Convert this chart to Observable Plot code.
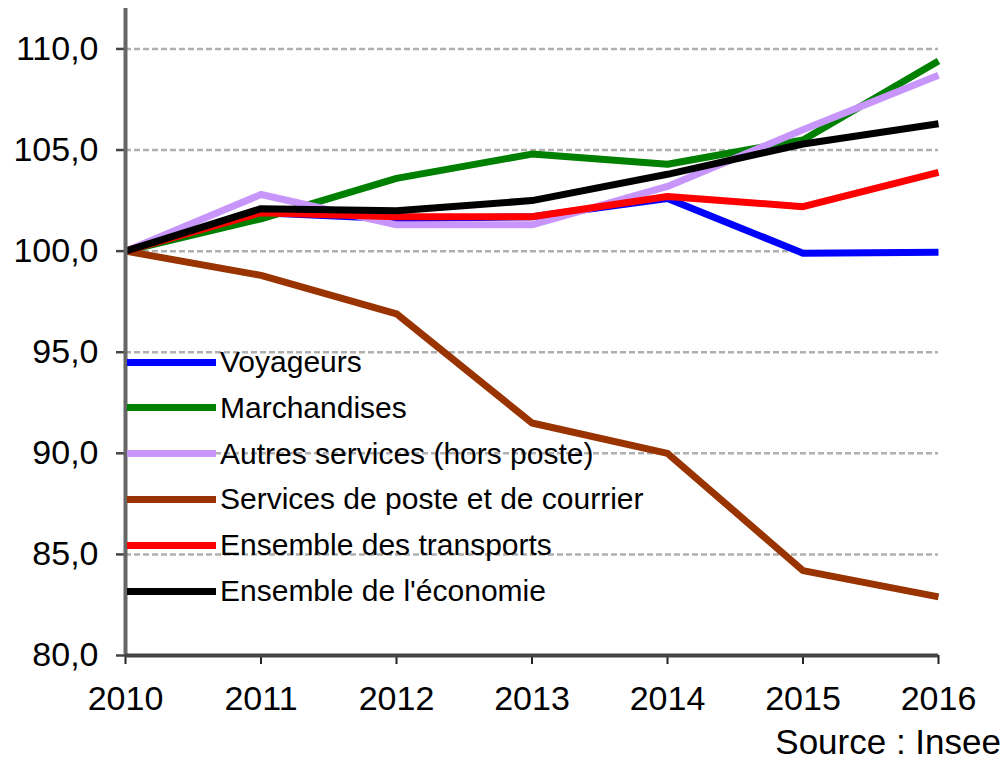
<!DOCTYPE html>
<html><head><meta charset="utf-8">
<script src="https://cdn.jsdelivr.net/npm/d3@7"></script>
<script src="https://cdn.jsdelivr.net/npm/@observablehq/plot@0.6"></script>
<style>
body{margin:0;background:#fff;font-family:"Liberation Sans",Arial,sans-serif;}
#wrap{position:relative;width:1005px;height:762px;overflow:hidden;}
.leg{position:absolute;left:127px;display:flex;align-items:center;font-size:30px;color:#000;white-space:nowrap;}
.sw{width:89px;height:7px;margin-right:4px;}
#src{position:absolute;right:4px;top:722px;font-size:35px;line-height:40px;color:#000;}
</style></head>
<body><div id="wrap"></div>
<script>
const years = [2010, 2011, 2012, 2013, 2014, 2015, 2016];
const seriesNames = ["Voyageurs", "Marchandises", "Autres services (hors poste)", "Services de poste et de courrier", "Ensemble des transports", "Ensemble de l'économie"];
const seriesColors = ["#0000ff", "#008000", "#c896fa", "#993300", "#ff0000", "#000000"];
const voyageurs = [100, 101.9, 101.6, 101.7, 102.6, 99.9, 99.95];
const marchandises = [100, 101.6, 103.6, 104.8, 104.3, 105.5, 109.4];
const autres = [100, 102.8, 101.3, 101.3, 103.2, 106.0, 108.7];
const poste = [100, 98.8, 96.9, 91.5, 90.0, 84.2, 82.9];
const transports = [100, 101.9, 101.7, 101.7, 102.7, 102.2, 103.9];
const economie = [100, 102.1, 102.0, 102.5, 103.8, 105.3, 106.3];
const yTicks = [80, 85, 90, 95, 100, 105, 110];
const gridTicks = [85, 90, 95, 100, 105, 110];
const yDomain = [80, 112];
const sourceText = "Source : Insee";

const allSeries = [voyageurs, marchandises, autres, poste, transports, economie];
const rows = [];
allSeries.forEach((vals, i) => vals.forEach((v, j) => rows.push({serie: seriesNames[i], year: years[j], value: v})));

const fmt = v => v.toFixed(1).replace(".", ",");

const chart = Plot.plot({
  width: 1005, height: 720,
  marginLeft: 125, marginRight: 67, marginTop: 8, marginBottom: 65,
  style: {fontFamily: '"Liberation Sans", Arial, sans-serif', fontSize: "34px", color: "#000", background: "#fff"},
  x: {domain: [2010, 2016], type: "linear", label: null},
  y: {domain: yDomain, label: null},
  color: {domain: seriesNames, range: seriesColors},
  marks: [
    Plot.ruleY(gridTicks, {stroke: "#b0b0b0", strokeWidth: 2.5, strokeDasharray: "6,3"}),
    Plot.axisY({ticks: yTicks, tickFormat: fmt, tickSize: 9, tickPadding: 18, stroke: "#444", strokeWidth: 2.5, fill: "#000", fontSize: 34, label: null}),
    Plot.axisX({ticks: years, tickFormat: d => String(d), tickSize: 9, tickPadding: 21, stroke: "#222", strokeWidth: 2, fill: "#000", fontSize: 34, label: null}),
    Plot.line(rows, {x: "year", y: "value", z: "serie", stroke: "serie", strokeWidth: 7, strokeLinejoin: "round", strokeLinecap: "butt"}),
    Plot.ruleX([2010], {stroke: "#666", strokeWidth: 4}),
    Plot.ruleY([80], {stroke: "#444", strokeWidth: 4})
  ]
});
const wrap = document.getElementById("wrap");
wrap.appendChild(chart);

seriesNames.forEach((name, i) => {
  const d = document.createElement("div");
  d.className = "leg";
  d.style.top = (362 - 20 + i * 45.8) + "px";
  d.style.height = "40px";
  const sw = document.createElement("span");
  sw.className = "sw";
  sw.style.background = seriesColors[i];
  const t = document.createElement("span");
  t.textContent = name;
  d.appendChild(sw); d.appendChild(t);
  wrap.appendChild(d);
});
const src = document.createElement("div");
src.id = "src";
src.textContent = sourceText;
wrap.appendChild(src);
</script></body></html>
